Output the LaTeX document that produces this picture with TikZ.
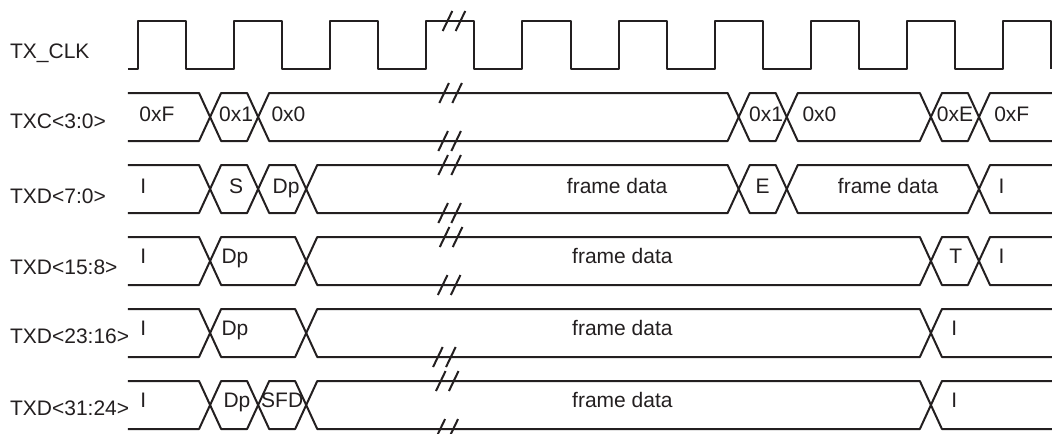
\documentclass[tikz,border=0pt]{standalone}
\usepackage{fontspec}
\setmainfont{Liberation Sans}
\usepackage{tikz}

\definecolor{ink}{HTML}{231F20}
\tikzset{
    wave/.style={ink, line width=1pt, line join=round},
    lbl/.style={ink, inner sep=0pt, font=\fontsize{10.5}{12}\selectfont},
}

\begin{document}
\begin{tikzpicture}[x=24.025pt, y=-0.5pt]
                    \useasboundingbox (-2.872,0) rectangle (19.02,433);
                    \foreach \n/\t/\b in {clk/TX\_CLK/58, txc/TXC<3:0>/128, txda/TXD<7:0>/203, txdb/TXD<15:8>/274, txdc/TXD<23:16>/343, txdd/TXD<31:24>/415} { \node[lbl,anchor=base west] (\n) at (-2.67,\b) {\t}; }
                    \draw[wave] (-0.21,69) \foreach \i in {0,2,...,18} { -- (\i,69) -- (\i,21) -- (\i+1,21) -- (\i+1,69) };
                    \begin{scope}
                        \clip (-0.21,0) rectangle (19.1,433);
                        \foreach \y/\ts in {117/{1.5,2.5,12.5,13.5,16.5,17.5,30}, 189/{1.5,2.5,3.5,12.5,13.5,17.5,30}, 261/{1.5,3.5,16.5,17.5,30}, 333/{1.5,3.5,16.5,30}, 405/{1.5,2.5,3.5,16.5,30}} {
                            \foreach \t [remember=\t as \p (initially -10)] in \ts { \draw[wave] (\p,\y) -- (\p+0.23,\y-24) -- (\t-0.23,\y-24) -- (\t,\y) -- (\t-0.23,\y+24) -- (\p+0.23,\y+24) -- cycle; }
                        }
                    \end{scope}
                    \foreach \x/\y in {6.58/21, 6.51/93, 6.49/141, 6.49/165, 6.49/213, 6.52/237, 6.48/285, 6.38/357, 6.44/381, 6.43/429} { \draw[wave,line cap=butt] (\x-0.24,\y+10) -- (\x-0.04,\y-10) (\x+0.03,\y+10) -- (\x+0.23,\y-10); }
                    \foreach \x/\y/\a/\t [count=\i] in {0.02/121/base west/0xF, 2.04/121/base/0x1, 2.77/121/base west/0x0, 13.07/121/base/0x1, 13.82/121/base west/0x0, 17.0/121/base/0xE, 17.81/121/base west/0xF,
                        0.04/193/base west/I, 2.04/193/base/S, 3.08/193/base/Dp, 9.97/193/base/frame data, 13.0/193/base/E, 15.61/193/base/frame data, 17.9/193/base west/I,
                        0.04/263/base west/I, 1.73/263/base west/Dp, 10.08/263/base/frame data, 17.02/263/base/T, 17.9/263/base west/I,
                        0.04/335/base west/I, 1.73/335/base west/Dp, 10.08/335/base/frame data, 16.92/335/base west/I,
                        0.04/407/base west/I, 2.06/407/base/Dp, 3.0/407/base/SFD, 10.08/407/base/frame data, 16.92/407/base west/I} { \node[lbl,anchor=\a] (v\i) at (\x,\y) {\t}; }
                \end{tikzpicture}
\end{document}
